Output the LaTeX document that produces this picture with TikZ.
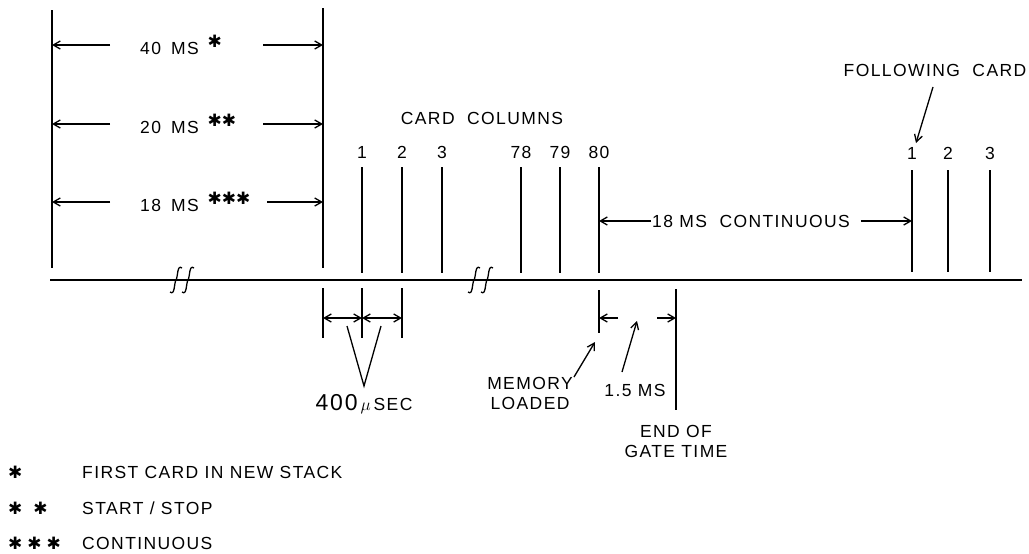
\documentclass[tikz,border=0pt]{standalone}
\usepackage{fontspec}
\setmainfont{Liberation Sans}[LetterSpace=8]
\newfontfamily\starfont{DejaVu Sans}
\usetikzlibrary{arrows.meta}
\newcommand{\mstar}{{\starfont\fontsize{17}{18}\selectfont ✱}}

\begin{document}
\begin{tikzpicture}[
    x=1pt, y=-1pt,
    font=\fontsize{17.5}{20}\selectfont,
    every node/.style={inner sep=1pt},
    >={Straight Barb[length=7pt,width=8pt]},
    rule/.style={line width=1.3pt},
    dim/.style={line width=1.3pt,->},
    dimboth/.style={line width=1.3pt,<->},
]
\useasboundingbox (0,0) rectangle (1029,554);
% ---- column x-coordinates ----
\def\xL{52}       % left edge of the delay
\def\xS{323}      % start of card
\def\xE{599}      % column 80, memory loaded
\def\xG{676}      % end of gate time
% ---- row y-coordinates ----
\def\yax{280}     % time axis
\def\yd{318}      % lower dimension row

% ---- time axis with breaks ----
\coordinate (ax0) at (50,\yax);
\coordinate (ax1) at (1022,\yax);
\draw[rule] (ax0) -- (ax1);
\foreach \x in {176,188,474,487}
  \draw[rule] (\x-6,292) .. controls (\x-1,296) and (\x-2,283) .. (\x,280)
              .. controls (\x+2,277) and (\x+1,264) .. (\x+6,268);

% ---- delay bounds ----
\coordinate (d0t) at (\xL,10);
\coordinate (d0b) at (\xL,268);
\coordinate (d1t) at (\xS,8);
\coordinate (d1b) at (\xS,268);
\draw[rule] (d0t) -- (d0b);
\draw[rule] (d1t) -- (d1b);

% ---- delay rows ----
\foreach \n/\y/\txt/\s/\r in {A/45/40/\mstar/263,
                              B/124/20/\mstar\mstar/263,
                              C/202/18/\mstar\mstar\mstar/267}{
  \node[anchor=west] (t\n) at (139,\y)
    {\txt\hspace{10pt}MS\hspace{9pt}\raisebox{7pt}{\s}};
  \coordinate (r\n) at (\r,\y);
  \draw[dim] ([xshift=-29pt]t\n.west) -- (t\n.west -| d0t);
  \draw[dim] (r\n) -- (r\n -| d1t);
}

% ---- card columns ----
\node (cc) at (482,118) {CARD\ \ COLUMNS};
\foreach \n/\x in {1/362,2/402,3/442,78/521,79/560,80/599}{
  \node (n\n) at (\x,152) {\n};
  \coordinate (c\n t) at (\x,167);
  \coordinate (c\n b) at (\x,273);
  \draw[rule] (c\n t) -- (c\n b);
}

% ---- following card ----
\node (fc) at (935,70) {FOLLOWING\ \ CARD};
\foreach \n/\x in {1/912,2/948,3/990}{
  \node (m\n) at (\x,153) {\n};
  \coordinate (g\n t) at (\x,170);
  \coordinate (g\n b) at (\x,272);
  \draw[rule] (g\n t) -- (g\n b);
}
\coordinate (fa) at (933,87);
\coordinate (fb) at (916,143);
\draw[dim] (fa) -- (fb);

% ---- 18 ms continuous ----
\node (cont) at (751,221) {18 MS\ \ CONTINUOUS};
\draw[dim] (cont.west) -- (cont.west -| c80t);
\draw[dim] ([xshift=10pt]cont.east) -- (cont.east -| g1t);

% ---- 400 usec ----
\foreach \n/\x in {0/\xS,1/362,2/402}{
  \coordinate (l\n t) at (\x,288);
  \coordinate (l\n b) at (\x,338);
  \draw[rule] (l\n t) -- (l\n b);
  \coordinate (p\n) at (\x,\yd);
}
\draw[dimboth] (p0) -- (p1);
\draw[dimboth] (p1) -- (p2);
\coordinate (v0) at (347,326);
\coordinate (v1) at (364,386);
\coordinate (v2) at (381,326);
\draw[rule] (v0) -- (v1) -- (v2);
\node (us) at (364,404) {{\fontsize{23}{24}\selectfont 400}\,$\mu$\,SEC};

% ---- memory loaded / gate time ----
\coordinate (e0) at (\xE,290);
\coordinate (e1) at (\xE,333);
\draw[rule] (e0) -- (e1);
\coordinate (h0) at (\xG,289);
\coordinate (h1) at (\xG,410);
\draw[rule] (h0) -- (h1);
\coordinate (qa) at (618,\yd);
\coordinate (qb) at (657,\yd);
\draw[dim] (qa) -- (qa -| e0);
\draw[dim] (qb) -- (qb -| h0);
\node[align=center] (mem) at (530,393) {MEMORY\\LOADED};
\coordinate (ma) at (574,377);
\coordinate (mb) at (595,342);
\draw[dim] (ma) -- (mb);
\node (gap) at (635,390) {1.5 MS};
\coordinate (ga) at (622,372);
\coordinate (gb) at (637,321);
\draw[dim] (ga) -- (gb);
\node[align=center] (eog) at (676,441) {END\ OF\\GATE\ TIME};

% ---- legend ----
\node[anchor=west,inner sep=0pt] (s1) at (8,472) {\mstar};
\node[anchor=west,inner sep=0pt] (s2) at (8,508) {\mstar\hspace{11pt}\mstar};
\node[anchor=west,inner sep=0pt] (s3) at (8,543) {\mstar\hspace{5pt}\mstar\hspace{5pt}\mstar};
\node[anchor=west] (k1) at (81,472) {FIRST CARD IN NEW STACK};
\node[anchor=west] (k2) at (81,508) {START / STOP};
\node[anchor=west] (k3) at (81,543) {CONTINUOUS};
\end{tikzpicture}
\end{document}
